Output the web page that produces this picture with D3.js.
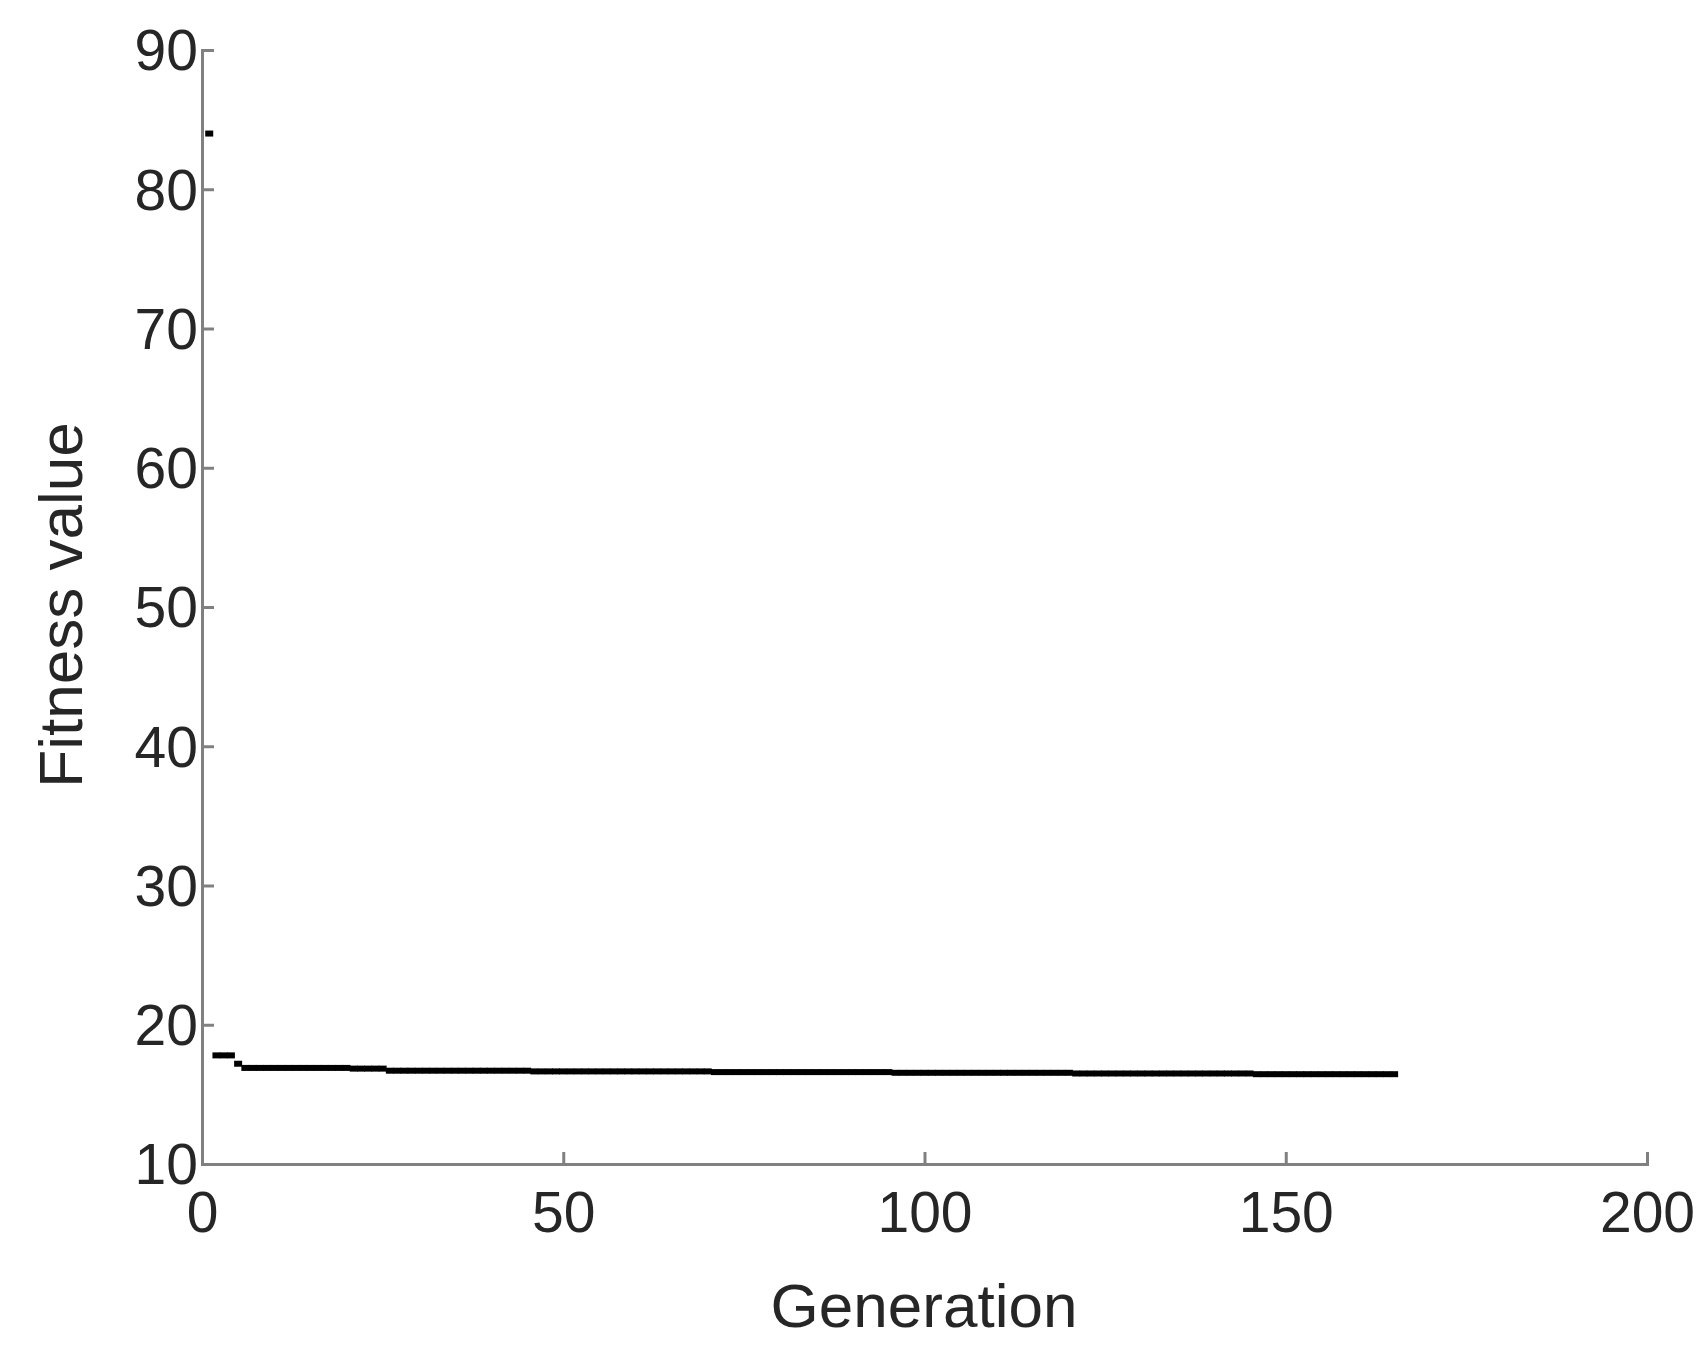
<!DOCTYPE html>
<html><head><meta charset="utf-8">
<script src="https://cdn.jsdelivr.net/npm/d3@7"></script>
<style>body{margin:0;background:#fff}text{font-family:"Liberation Sans",Arial,sans-serif;fill:#262626}</style>
</head><body><svg id="c" width="1706" height="1360"></svg>
<script>
const xTicks=[0,50,100,150,200];
const yTicks=[10,20,30,40,50,60,70,80,90];
const fitness=[84,17.8,17.8,17.8,17.2,
16.9,16.9,16.9,16.9,16.9,16.9,16.9,16.9,16.9,16.9,16.9,16.9,16.9,16.9,16.9,
16.85,16.85,16.85,16.85,16.85,
16.7,16.7,16.7,16.7,16.7,16.7,16.7,16.7,16.7,16.7,16.7,16.7,16.7,16.7,16.7,16.7,16.7,16.7,16.7,16.7,
16.65,16.65,16.65,16.65,16.65,16.65,16.65,16.65,16.65,16.65,16.65,16.65,16.65,16.65,16.65,16.65,16.65,16.65,16.65,16.65,16.65,16.65,16.65,16.65,16.65,
16.6,16.6,16.6,16.6,16.6,16.6,16.6,16.6,16.6,16.6,16.6,16.6,16.6,16.6,16.6,16.6,16.6,16.6,16.6,16.6,16.6,16.6,16.6,16.6,16.6,
16.55,16.55,16.55,16.55,16.55,16.55,16.55,16.55,16.55,16.55,16.55,16.55,16.55,16.55,16.55,16.55,16.55,16.55,16.55,16.55,16.55,16.55,16.55,16.55,16.55,
16.5,16.5,16.5,16.5,16.5,16.5,16.5,16.5,16.5,16.5,16.5,16.5,16.5,16.5,16.5,16.5,16.5,16.5,16.5,16.5,16.5,16.5,16.5,16.5,16.5,
16.45,16.45,16.45,16.45,16.45,16.45,16.45,16.45,16.45,16.45,16.45,16.45,16.45,16.45,16.45,16.45,16.45,16.45,16.45,16.45];
const svg=d3.select("#c");
const x=d3.scaleLinear().domain([0,200]).range([202,1647]);
const y=d3.scaleLinear().domain([10,90]).range([1164,50]);
const ax=svg.append("g").attr("transform","translate(0,1164)").call(d3.axisBottom(x).tickValues(xTicks).tickSize(-12).tickPadding(28));
const ay=svg.append("g").attr("transform","translate(202,0)").call(d3.axisLeft(y).tickValues(yTicks).tickSize(-12).tickPadding(4));
[ax,ay].forEach(g=>{g.selectAll("path,line").attr("stroke","#808080").attr("stroke-width",3);g.selectAll("text").attr("font-size",57).style("fill","#262626");});
ay.selectAll("text").attr("dy","0.35em");
svg.append("g").selectAll("rect").data(fitness).join("rect")
 .attr("x",(d,i)=>x(i+1)-4).attr("y",d=>y(d)-3).attr("width",8).attr("height",6).attr("fill","#000");
svg.append("text").attr("x",924).attr("y",1327).attr("text-anchor","middle").attr("font-size",62).text("Generation");
svg.append("text").attr("transform","translate(82,605) rotate(-90)").attr("text-anchor","middle").attr("font-size",62).text("Fitness value");
</script></body></html>
